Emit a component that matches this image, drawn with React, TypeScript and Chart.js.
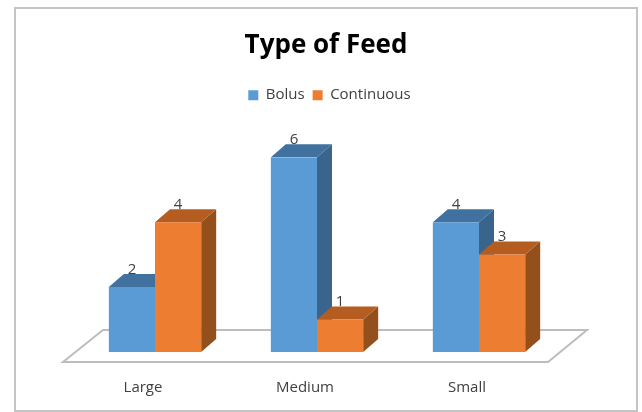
import React, { useEffect, useRef } from "react";
import { Chart, registerables } from "chart.js";

Chart.register(...registerables);

const categories = ["Large", "Medium", "Small"];
const bolus = [2, 6, 4];
const continuous = [4, 1, 3];
const FONT = '"Open Sans", "Noto Sans", sans-serif';

const DX = 15;
const DY = 13;

const poly = (ctx: CanvasRenderingContext2D, pts: number[][], fill: string) => {
  ctx.beginPath();
  pts.forEach(([x, y], i) => (i ? ctx.lineTo(x, y) : ctx.moveTo(x, y)));
  ctx.closePath();
  ctx.fillStyle = fill;
  ctx.fill();
};

const shade = [
  { top: "#41719E", side: "#39648C" },
  { top: "#B55D20", side: "#94501C" },
];

const depthPlugin = {
  id: "depth",
  afterLayout(chart: any) {
    if (chart.legend) {
      chart.legend.left += 3.5;
      chart.legend.right += 3.5;
    }
  },
  beforeDatasetsDraw(chart: any) {
    const { ctx, chartArea: a } = chart;
    ctx.save();
    ctx.beginPath();
    ctx.moveTo(a.left - 11, a.bottom + 10);
    ctx.lineTo(a.left + 29, a.bottom - 22);
    ctx.lineTo(a.right + 27, a.bottom - 22);
    ctx.lineTo(a.right - 12, a.bottom + 10);
    ctx.closePath();
    ctx.fillStyle = "#ffffff";
    ctx.fill();
    ctx.strokeStyle = "#BDBDBD";
    ctx.lineWidth = 2;
    ctx.stroke();
    chart.data.datasets.forEach((_: any, di: number) => {
      chart.getDatasetMeta(di).data.forEach((b: any) => {
        const l = b.x - b.width / 2;
        const r = b.x + b.width / 2;
        poly(ctx, [[r, b.y], [r + DX, b.y - DY], [r + DX, b.base - DY], [r, b.base]], shade[di].side);
        poly(ctx, [[l, b.y], [l + DX, b.y - DY], [r + DX, b.y - DY], [r, b.y]], shade[di].top);
      });
    });
    ctx.restore();
  },
  afterDatasetsDraw(chart: any) {
    const { ctx } = chart;
    ctx.save();
    ctx.font = `15px ${FONT}`;
    ctx.fillStyle = "#404040";
    ctx.textAlign = "center";
    ctx.textBaseline = "middle";
    chart.data.datasets.forEach((ds: any, di: number) => {
      chart.getDatasetMeta(di).data.forEach((b: any, i: number) => {
        ctx.fillText(String(ds.data[i]), b.x, b.y - 17.5);
      });
    });
    ctx.restore();
  },
};

const spacer = (size: number) => ({
  display: true,
  ticks: { display: false },
  grid: { display: false },
  border: { display: false },
  afterFit(s: any) {
    if (s.isHorizontal()) s.height = size;
    else s.width = size;
  },
});

export default function App() {
  const ref = useRef<HTMLCanvasElement>(null);
  useEffect(() => {
    const chart = new Chart(ref.current!, {
      type: "bar",
      data: {
        labels: categories,
        datasets: [
          { label: "Bolus", data: bolus, backgroundColor: "#5B9BD5", xAxisID: "x", yAxisID: "y" },
          { label: "Continuous", data: continuous, backgroundColor: "#ED7D31", xAxisID: "x", yAxisID: "y" },
        ],
      },
      plugins: [depthPlugin],
      options: {
        responsive: false,
        animation: false,
        layout: { padding: { left: 10, right: 0, top: 0, bottom: 0 } },
        categoryPercentage: 0.57,
        barPercentage: 1,
        plugins: {
          tooltip: { enabled: false },
          title: {
            display: true,
            text: "Type of Feed",
            color: "#000000",
            font: { family: FONT, size: 26, weight: "bold" },
            padding: { top: 30, bottom: 18.5 },
          },
          legend: {
            position: "top",
            labels: {
              boxWidth: 10,
              boxHeight: 10,
              padding: 8,
              color: "#404040",
              font: { family: FONT, size: 15 },
            },
          },
        },
        scales: {
          x: {
            type: "category",
            position: "bottom",
            grid: { display: false },
            border: { display: false },
            ticks: { color: "#404040", font: { family: FONT, size: 15 }, padding: 19, labelOffset: -12 },
            afterFit(s: any) {
              s.height = 60;
            },
          },
          y: { type: "linear", position: "left", min: 0, max: 6, ...spacer(64) },
          yEnd: { type: "linear", position: "right", ...spacer(82) },
          xTop: { type: "linear", axis: "x", position: "top", ...spacer(44.5) },
        },
      } as any,
    });
    return () => chart.destroy();
  }, []);
  return (
    <div style={{ position: "fixed", left: 0, top: 0, width: 642, height: 412, background: "#fff" }}>
      <canvas ref={ref} width={642} height={412} style={{ display: "block", filter: "blur(0.7px)" }} />
      <div
        style={{
          position: "absolute",
          left: 14,
          top: 7,
          width: 620,
          height: 401,
          border: "2px solid #C4C4C4",
          boxSizing: "content-box",
          pointerEvents: "none",
        }}
      />
    </div>
  );
}
